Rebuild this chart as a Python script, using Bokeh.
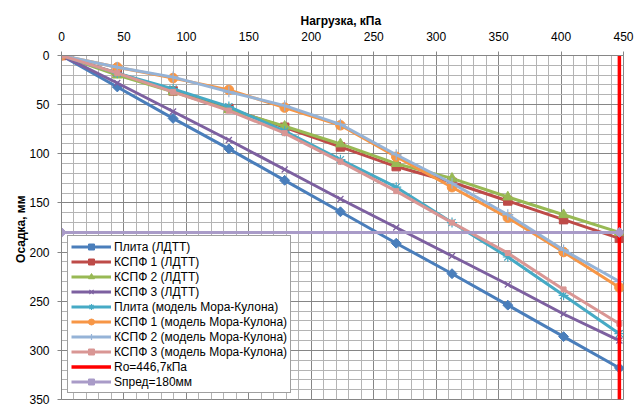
from bokeh.plotting import figure
from bokeh.models import Range1d, SingleIntervalTicker, Legend, LegendItem
from bokeh.embed import file_html
from bokeh.resources import INLINE

# ---- data ----
loads = [0, 44.67, 89.34, 134.01, 178.68, 223.35, 268.02, 312.69, 357.36, 402.03, 446.7]

plita_ldtt = [0, 32, 64, 95, 127, 159, 191, 222, 254, 286, 318]
kspf1_ldtt = [0, 18, 36, 54, 73, 93, 113, 129, 148, 167, 186]
kspf2_ldtt = [0, 20, 37, 55, 72, 90, 110, 125, 144, 162, 180]
kspf3_ldtt = [0, 28, 57, 86, 116, 146, 175, 204, 233, 263, 290]
plita_mk = [0, 18, 34, 52, 77, 106, 134, 170, 205, 244, 283]
kspf1_mk = [0, 12, 23, 35, 53, 71, 103, 134, 165, 200, 236]
kspf2_mk = [0, 12, 22, 37, 51, 70, 101, 130, 162, 198, 230]
kspf3_mk = [0, 18, 37, 56, 79, 108, 138, 170, 201, 238, 273]

ro_x = [446.7, 446.7]
ro_y = [0, 350]
spred_x = [0, 446.7]
spred_y = [180, 180]

labels = [
    "Плита (ЛДТТ)",
    "КСПФ 1 (ЛДТТ)",
    "КСПФ 2 (ЛДТТ)",
    "КСПФ 3 (ЛДТТ)",
    "Плита (модель Мора-Кулона)",
    "КСПФ 1 (модель Мора-Кулона)",
    "КСПФ 2 (модель Мора-Кулона)",
    "КСПФ 3 (модель Мора-Кулона)",
    "Ro=446,7кПа",
    "Sпред=180мм",
]

x_title = "Нагрузка,  кПа"
y_title = "Осадка,  мм"

# ---- styles ----
FONT = "Liberation Sans"
styles = [
    # color, marker, size, angle, thin-marker
    ("#4A7EBB", "square", 7, 0.785398, False),
    ("#BE4B48", "square", 8.5, 0, False),
    ("#98B954", "triangle", 10, 0, False),
    ("#7D60A0", "x", 8.5, 0, True),
    ("#46AAC5", "asterisk", 10, 0, True),
    ("#F79646", "circle", 9.5, 0, False),
    ("#95B3D7", "cross", 11, 0, True),
    ("#D99694", "square", 5, 0, False),
]
series = [plita_ldtt, kspf1_ldtt, kspf2_ldtt, kspf3_ldtt,
          plita_mk, kspf1_mk, kspf2_mk, kspf3_mk]

p = figure(width=644, height=408, output_backend="svg", toolbar_location=None,
           x_range=Range1d(0, 450), y_range=Range1d(350, 0),
           x_axis_location="above",
           min_border_left=61, min_border_right=21,
           min_border_top=55, min_border_bottom=9)

p.background_fill_color = "white"
p.border_fill_color = "white"
p.outline_line_color = "#868686"
p.outline_line_width = 1

xt = SingleIntervalTicker(interval=50, num_minor_ticks=5)
yt = SingleIntervalTicker(interval=50, num_minor_ticks=5)
p.xaxis.ticker = xt
p.yaxis.ticker = yt
p.xgrid.ticker = xt
p.ygrid.ticker = yt
for g in (p.xgrid, p.ygrid):
    g.grid_line_color = "#868686"
    g.grid_line_width = 1
    g.minor_grid_line_color = "#B4B4B4"
    g.minor_grid_line_width = 1

for ax in (p.xaxis, p.yaxis):
    ax.axis_line_color = "#868686"
    ax.major_tick_line_color = "#868686"
    ax.major_tick_out = 4
    ax.major_tick_in = 0
    ax.minor_tick_out = 0
    ax.minor_tick_in = 0
    ax.major_label_text_font = FONT
    ax.major_label_text_font_size = "12px"
    ax.major_label_text_color = "black"
    ax.axis_label_text_font = FONT
    ax.axis_label_text_font_size = "12px"
    ax.axis_label_text_font_style = "bold"
    ax.axis_label_text_color = "black"

p.xaxis.axis_label = x_title
p.yaxis.axis_label = y_title
p.xaxis.major_label_standoff = 11
p.xaxis.axis_label_standoff = 1
p.yaxis.major_label_standoff = 8
p.yaxis.axis_label_standoff = -2

items = []
for lab, ys, (col, mk, sz, ang, thin) in zip(labels[:8], series, styles):
    ln = p.line(loads, ys, line_color=col, line_width=3)
    if thin:
        sc = p.scatter(loads, ys, marker=mk, size=sz, line_color=col, line_width=1.2)
    else:
        sc = p.scatter(loads, ys, marker=mk, size=sz, angle=ang,
                       fill_color=col, line_color=col, line_width=1)
    items.append(LegendItem(label=lab, renderers=[ln, sc]))

ro = p.line(ro_x, ro_y, line_color="#FF0000", line_width=3.5)
items.append(LegendItem(label=labels[8], renderers=[ro]))

sp = p.line(spred_x, spred_y, line_color="#A99BC8", line_width=3)
sps = p.scatter(spred_x, spred_y, marker="square", size=7, angle=0.785398,
                fill_color="#A99BC8", line_color="#A99BC8")
items.append(LegendItem(label=labels[9], renderers=[sp, sps]))

legend = Legend(items=items, location=(6, 6), margin=0, padding=3, spacing=0,
                label_height=15, glyph_height=15, glyph_width=40, label_standoff=3,
                label_text_font=FONT, label_text_font_size="12px",
                label_text_color="black",
                border_line_color="#404040", border_line_width=1,
                background_fill_color="white", background_fill_alpha=1)
p.add_layout(legend, "center")

open("out.html", "w").write(file_html(p, INLINE))
